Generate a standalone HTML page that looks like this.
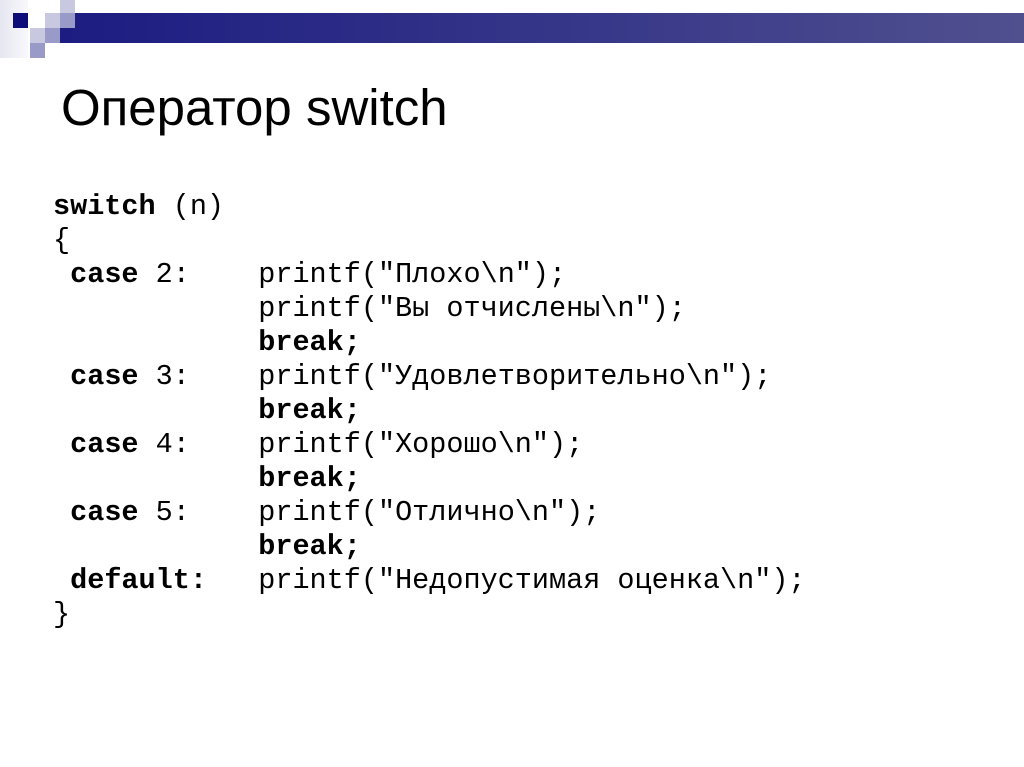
<!DOCTYPE html>
<html><head><meta charset="utf-8"><style>
body{margin:0;width:1024px;height:767px;background:#fff;position:relative;overflow:hidden}
.sq{position:absolute;width:15px;height:15px}
.bar{position:absolute;left:60px;top:13px;width:964px;height:30px;background:linear-gradient(90deg,#1c1c82,#3a3a8a 60%,#50508f)}
h1{position:absolute;left:61px;top:78px;margin:0;font:51px "Liberation Sans","Noto Sans CJK SC",sans-serif;color:#000;font-weight:normal}
pre{position:absolute;left:53px;top:190px;margin:0;font:28.5px/34px "Liberation Mono","DejaVu Sans Mono",monospace;color:#000}
b{font-weight:bold}
</style></head><body>
<div style="position:absolute;left:0;top:0;width:28px;height:58px;background:linear-gradient(90deg,#e6e6f0,#f8f8fc)"></div>
<div class="sq" style="left:13px;top:13px;background:#0d0d7a"></div>
<div class="sq" style="left:45px;top:13px;background:#c8c8e0"></div>
<div class="sq" style="left:60px;top:0;background:#c8c8e0"></div>
<div class="sq" style="left:30px;top:28px;background:#c8c8e0"></div>
<div class="sq" style="left:45px;top:28px;background:#9a9ac8"></div>
<div class="sq" style="left:30px;top:43px;background:#9a9ac8"></div>
<div class="bar"></div>
<div class="sq" style="left:60px;top:13px;background:#9a9ac8"></div>
<h1>Оператор switch</h1>
<pre><b>switch</b> (n)
{
 <b>case</b> 2:    printf("Плохо\n");
            printf("Вы отчислены\n");
            <b>break;</b>
 <b>case</b> 3:    printf("Удовлетворительно\n");
            <b>break;</b>
 <b>case</b> 4:    printf("Хорошо\n");
            <b>break;</b>
 <b>case</b> 5:    printf("Отлично\n");
            <b>break;</b>
 <b>default:</b>   printf("Недопустимая оценка\n");
}</pre>
</body></html>
